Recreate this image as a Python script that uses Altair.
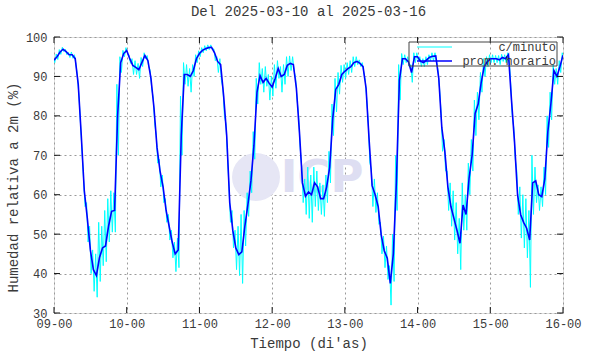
import altair as alt
import pandas as pd

# ---------------- data ----------------
dias = ["09-00", "10-00", "11-00", "12-00", "13-00", "14-00", "15-00", "16-00"]
marcas_y = [30, 40, 50, 60, 70, 80, 90, 100]
series = ["c/minuto", "prom. horario"]

# hourly mean (blue), one value per hour from 09-00 to 16-00
prom_d1 = [94.1, 95.0, 96.2, 96.9, 96.3, 95.5, 95.5, 94.5, 88, 75, 61, 54, 46, 41, 39.5, 44, 46.5, 47, 52, 55.8, 56, 80, 93.5, 95.8]
prom_d2 = [96.6, 94.5, 92.8, 92.3, 91.7, 93.5, 95.3, 94, 89.5, 82, 72, 66, 62, 56, 52, 48, 45, 46, 75, 90.5, 90.5, 90, 91.5, 94.5]
prom_d3 = [95.8, 96.6, 97, 97.3, 97.4, 96, 93.8, 93, 85, 75, 58, 51, 46.5, 44.8, 45.5, 52, 57.5, 63.5, 72.5, 86, 90.2, 88.5, 89.5, 88.3]
prom_d4 = [87.3, 89.5, 92, 90, 90.5, 92.8, 93.3, 93, 87, 76, 63, 59.6, 60.7, 60, 63, 62, 59, 59, 62, 67, 79.3, 86.7, 88, 90.5]
prom_d5 = [91.3, 92, 92.5, 93.5, 93.8, 93.3, 92.5, 87, 74, 62.3, 60, 57, 49.8, 45.8, 43.9, 37.5, 45, 63, 89, 94.5, 94.5, 93.7, 91, 95]
prom_d6 = [95, 93.8, 93.5, 94.2, 94.9, 95.1, 95.2, 89.5, 77, 71, 62, 57, 54, 51, 47.7, 57.4, 55, 64.2, 70, 80.6, 83, 88.5, 92.5, 93.7]
prom_d7 = [94.5, 94.5, 94.5, 94.2, 94.8, 94.5, 95.5, 84, 73.4, 60, 55, 53, 51.5, 48.5, 63, 63.5, 60, 59.5, 64, 76, 83, 91.5, 90, 92.5, 95.4]

# per-minute series (cyan): lowest and highest minute values within each hour
bajo_d1 = [93.5, 94.3, 95.6, 96.3, 95.5, 94.8, 94.6, 93, 85, 71, 57, 48, 40, 35.5, 34, 38, 42, 43, 48, 50.5, 50.5, 70, 91, 95]
bajo_d2 = [95.8, 93.3, 90.5, 90.5, 89.5, 92.5, 94.5, 92.5, 87, 78, 68, 62, 58, 53, 48.5, 44, 40.5, 41.5, 70, 88, 87.5, 86, 90, 93.5]
bajo_d3 = [95, 96, 96.5, 96.8, 96.8, 94, 91, 89, 80, 70, 53, 46.5, 41, 39.5, 37.5, 47, 54.5, 60.5, 69, 83, 88, 86, 87.5, 84]
bajo_d4 = [85, 87, 89.5, 86, 88, 90, 91.5, 91.5, 84, 72, 58, 55, 54, 53, 57, 56, 55, 54.5, 58, 63, 75, 81, 85.5, 88.5]
bajo_d5 = [89.5, 90.5, 91, 92.5, 93, 92.5, 91, 84, 68, 57, 55.5, 52.5, 45, 41.5, 38.5, 32, 38, 56, 84, 93, 93.5, 92.5, 88.5, 93.5]
bajo_d6 = [94, 92.5, 92.5, 93, 94, 94, 94, 87, 71, 66, 56, 52, 48.5, 45, 41, 51, 51, 60, 66, 75, 79, 86, 90, 92.5]
bajo_d7 = [93.5, 93.5, 93.5, 93, 93.8, 93.5, 94.5, 80, 69, 55, 49, 46.5, 44, 36.5, 55, 58, 56, 57, 60, 72, 79, 88, 88, 91, 94.5]

alto_d1 = [94.8, 95.7, 96.8, 97.4, 96.9, 96.1, 96.2, 95.5, 90, 78, 64, 58, 52, 46, 45, 53, 52, 56, 59, 61, 60.5, 88, 95, 96.6]
alto_d2 = [97.3, 95.5, 94.5, 94, 93.3, 94.8, 96, 95.3, 91.5, 84.5, 75, 69, 65, 59, 55, 51, 48, 49, 85, 93.5, 93, 92, 93, 95.5]
alto_d3 = [96.5, 97.3, 97.8, 98, 98, 97, 95, 94.5, 87, 78, 62, 56, 51, 52, 55, 56, 60.5, 66, 76, 89.5, 93.5, 92, 92.5, 90.5]
alto_d4 = [90, 93, 94, 92.5, 93, 95, 95.2, 95, 89.5, 80, 67, 64, 67, 65, 67, 66, 63, 62.5, 65, 71, 83, 89.5, 91, 92.8]
alto_d5 = [93, 93.5, 94, 95, 95, 94.2, 93.5, 89, 78, 66.5, 64, 60.5, 53, 49.5, 47, 42, 50, 70, 93, 95.8, 95.5, 95, 93, 96]
alto_d6 = [96, 95, 94.5, 95, 95.5, 96, 96, 91.5, 81, 74, 66, 63, 61, 58, 54, 63, 60, 68, 74, 84, 86, 91, 94.5, 95]
alto_d7 = [95.5, 95.5, 95.3, 95.3, 95.6, 95.5, 96, 88, 77, 66, 62, 60, 59, 56, 70, 67, 62.5, 62, 67, 80, 86, 93, 92, 94, 96]

prom = prom_d1 + prom_d2 + prom_d3 + prom_d4 + prom_d5 + prom_d6 + prom_d7
bajo = bajo_d1 + bajo_d2 + bajo_d3 + bajo_d4 + bajo_d5 + bajo_d6 + bajo_d7
alto = alto_d1 + alto_d2 + alto_d3 + alto_d4 + alto_d5 + alto_d6 + alto_d7

# ---------------- tables ----------------
n = min(len(prom), len(bajo), len(alto))
df_prom = pd.DataFrame({"h": list(range(len(prom))), "v": prom, "serie": series[1], "o": list(range(len(prom)))})
filas = []
for i in range(n):
    filas.append({"h": i - 0.25, "v": alto[i], "serie": series[0], "o": 2 * i})
    filas.append({"h": i + 0.25, "v": bajo[i], "serie": series[0], "o": 2 * i + 1})
df_min = pd.DataFrame(filas)

horas_ticks = [24 * k for k in range(len(dias))]
df_xt = pd.DataFrame({"h": horas_ticks})
df_yt = pd.DataFrame({"v": marcas_y})

FONT = "Liberation Mono"
TXT = "#3a3a3a"
W, H = 509, 276

X = alt.X(
    "h:Q",
    scale=alt.Scale(domain=[0, 168], nice=False, zero=False),
    axis=alt.Axis(
        values=horas_ticks,
        labelExpr="(datum.value/24 + 9 < 10 ? '0' : '') + (datum.value/24 + 9) + '-00'",
        title="Tiempo (di'as)",
        grid=True, gridDash=[2, 3], gridColor="#9a9a9a", gridWidth=1,
        tickSize=0, domain=False, labelPadding=5, titlePadding=7,
        labelFont=FONT, labelFontSize=12, labelColor=TXT,
        titleFont=FONT, titleFontSize=14, titleFontWeight="normal", titleColor=TXT,
        labelFlush=False,
    ),
)
Y = alt.Y(
    "v:Q",
    scale=alt.Scale(domain=[30, 100], nice=False, zero=False),
    axis=alt.Axis(
        values=marcas_y,
        title="Humedad relativa a 2m (%)",
        grid=True, gridDash=[2, 3], gridColor="#9a9a9a", gridWidth=1,
        tickSize=0, domain=False, labelPadding=7, titlePadding=5, titleY=150,
        labelFont=FONT, labelFontSize=12, labelColor=TXT,
        titleFont=FONT, titleFontSize=14, titleFontWeight="normal", titleColor=TXT,
        labelFlush=False,
    ),
)
color = alt.Color(
    "serie:N",
    scale=alt.Scale(domain=series, range=["#00FFFF", "#0000FF"]),
    legend=None,
)

base = alt.Chart(pd.DataFrame({"a": [0]}))
logo_c = base.mark_point(filled=True, shape="circle", color="#e6e6f5", opacity=1).encode(
    x=alt.value(202), y=alt.value(140), size=alt.value(2300)
)
logo_t = base.mark_text(font="DejaVu Sans", fontWeight="bold", fontSize=45, color="#dedef2",
                        align="center", baseline="alphabetic").encode(
    x=alt.value(268), y=alt.value(155), text=alt.value("ICP")
)

cian = alt.Chart(df_min).mark_line(strokeWidth=1, clip=True).encode(
    x=X, y=Y, color=color, order="o:Q"
)
azul = alt.Chart(df_prom).mark_line(strokeWidth=1.6, clip=True).encode(
    x=X, y=Y, color=color, order="o:Q"
)

tick_izq = alt.Chart(df_yt).mark_rule(color="#111111", strokeWidth=1).encode(
    y=Y, x=alt.value(0), x2=alt.value(6))
tick_der = alt.Chart(df_yt).mark_rule(color="#111111", strokeWidth=1).encode(
    y=Y, x=alt.value(W - 6), x2=alt.value(W))
tick_inf = alt.Chart(df_xt).mark_rule(color="#111111", strokeWidth=1).encode(
    x=X, y=alt.value(H - 6), y2=alt.value(H))
tick_sup = alt.Chart(df_xt).mark_rule(color="#111111", strokeWidth=1).encode(
    x=X, y=alt.value(0), y2=alt.value(6))

# legend box (drawn as in the reference: transparent, thin grey frame)
ley_caja = base.mark_rect(fill="transparent", stroke="#444444", strokeWidth=1).encode(
    x=alt.value(355), x2=alt.value(503), y=alt.value(5), y2=alt.value(29))
ley_l1 = base.mark_rule(color="#00FFFF", strokeWidth=1).encode(
    x=alt.value(363), x2=alt.value(398), y=alt.value(10))
ley_l2 = base.mark_rule(color="#0000FF", strokeWidth=1.6).encode(
    x=alt.value(363), x2=alt.value(398), y=alt.value(24))
ley_t1 = base.mark_text(font=FONT, fontSize=12, color=TXT, align="right", baseline="middle").encode(
    x=alt.value(502), y=alt.value(10), text=alt.value(series[0]))
ley_t2 = base.mark_text(font=FONT, fontSize=12, color=TXT, align="right", baseline="middle").encode(
    x=alt.value(502), y=alt.value(24), text=alt.value(series[1]))

chart = alt.layer(
    logo_c, logo_t, cian, azul, tick_izq, tick_der, tick_inf, tick_sup,
    ley_caja, ley_l1, ley_l2, ley_t1, ley_t2
).properties(
    width=W, height=H,
    title=alt.TitleParams("Del 2025-03-10 al 2025-03-16", font=FONT, fontSize=14,
                          fontWeight="normal", color=TXT, offset=12, anchor="middle"),
    padding={"left": 54, "top": 37, "right": 27, "bottom": 41},
    autosize=alt.AutoSizeParams(type="none"),
).configure_view(
    stroke="#222222", strokeWidth=1.2
).configure(background="white")

chart.save("out.html", embed_options={"renderer": "svg", "actions": False})
